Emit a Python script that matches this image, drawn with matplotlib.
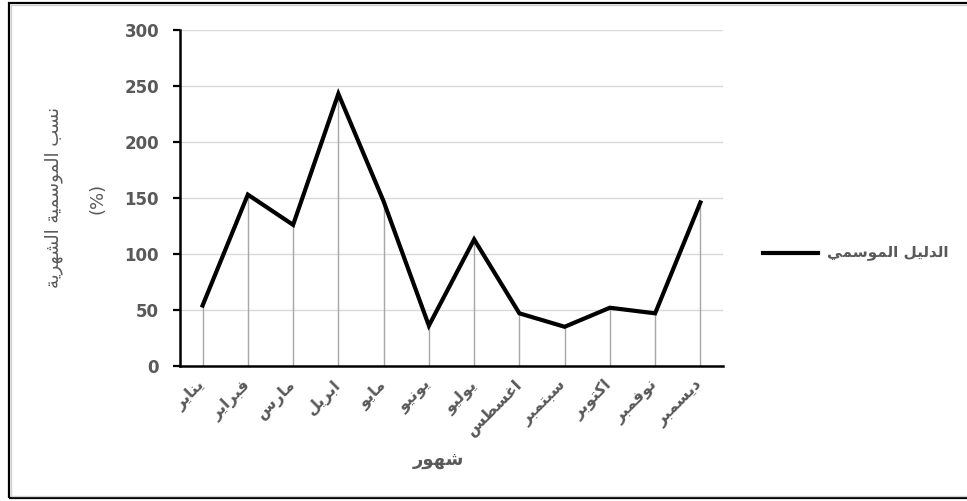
import matplotlib
matplotlib.use("Agg")
import matplotlib.pyplot as plt
from matplotlib.patches import Rectangle
from matplotlib.lines import Line2D
import numpy as np

# البيانات
months = ["يناير", "فبراير", "مارس", "ابريل", "مايو", "يونيو",
          "يوليو", "اغسطس", "سبتمبر", "اكتوبر", "نوفمبر", "ديسمبر"]
seasonal_index = [54, 153, 126, 243, 147, 36, 113, 47, 35, 52, 47, 146]
y_ticks = [0, 50, 100, 150, 200, 250, 300]

x_title = "شهور"
y_title = "نسب الموسمية الشهرية"
y_unit = "(%)"
legend_label = "الدليل الموسمي"

# matplotlib does no Arabic shaping: map letters to presentation forms
# (base code point, joining type) -> forms base, base+1, base+2, base+3
ARABIC_FORMS = {
    "ا": (0xFE8D, "R"), "ب": (0xFE8F, "D"), "ة": (0xFE93, "R"),
    "ت": (0xFE95, "D"), "ث": (0xFE99, "D"), "ج": (0xFE9D, "D"),
    "ح": (0xFEA1, "D"), "خ": (0xFEA5, "D"), "د": (0xFEA9, "R"),
    "ذ": (0xFEAB, "R"), "ر": (0xFEAD, "R"), "ز": (0xFEAF, "R"),
    "س": (0xFEB1, "D"), "ش": (0xFEB5, "D"), "ص": (0xFEB9, "D"),
    "ض": (0xFEBD, "D"), "ط": (0xFEC1, "D"), "ظ": (0xFEC5, "D"),
    "ع": (0xFEC9, "D"), "غ": (0xFECD, "D"), "ف": (0xFED1, "D"),
    "ق": (0xFED5, "D"), "ك": (0xFED9, "D"), "ل": (0xFEDD, "D"),
    "م": (0xFEE1, "D"), "ن": (0xFEE5, "D"), "ه": (0xFEE9, "D"),
    "و": (0xFEED, "R"), "ى": (0xFEEF, "R"), "ي": (0xFEF1, "D"),
}


def shape(text):
    out = []
    n = len(text)
    for i, ch in enumerate(text):
        if ch not in ARABIC_FORMS:
            out.append(ch)
            continue
        base, jt = ARABIC_FORMS[ch]
        prev = text[i - 1] if i > 0 else ""
        nxt = text[i + 1] if i + 1 < n else ""
        join_prev = prev in ARABIC_FORMS and ARABIC_FORMS[prev][1] == "D"
        join_next = jt == "D" and nxt in ARABIC_FORMS
        if join_prev and join_next:
            code = base + 3
        elif join_prev:
            code = base + 1
        elif join_next:
            code = base + 2
        else:
            code = base
        out.append(chr(code))
    return "".join(out)[::-1]


GRAY = "#595959"
AR_FONT = ["DejaVu Sans"]
NUM_FONT = ["DejaVu Sans"]

fig = plt.figure(figsize=(9.67, 5.01), dpi=100)
ax = fig.add_axes([0.1861, 0.2695, 0.5616, 0.6707])

x = np.arange(len(months))
ax.vlines(x, 0, seasonal_index, color="#a6a6a6", lw=1.0, zorder=2)
ax.plot(x, seasonal_index, color="black", lw=3.0, zorder=3,
        solid_joinstyle="miter")

ax.set_xlim(-0.5, len(months) - 0.5)
ax.set_ylim(0, 300)
ax.set_yticks(y_ticks)
ax.yaxis.grid(True, color="#d9d9d9", lw=1.0, zorder=0)
ax.set_axisbelow(True)

for side in ["top", "right"]:
    ax.spines[side].set_visible(False)
for side in ["left", "bottom"]:
    ax.spines[side].set_linewidth(1.8)
    ax.spines[side].set_zorder(4)

ax.tick_params(axis="y", direction="out", length=5, width=1.6,
               colors="black", labelcolor=GRAY, pad=10)
for lab in ax.get_yticklabels():
    lab.set_fontfamily(NUM_FONT)
    lab.set_fontweight("bold")
    lab.set_fontsize(12)

ax.set_xticks(x)
ax.set_xticklabels([shape(m) for m in months], rotation=45,
                   ha="right", va="center", rotation_mode="anchor",
                   fontsize=11.5, fontweight="bold", color=GRAY,
                   family=AR_FONT)
ax.tick_params(axis="x", length=0, pad=12)

fig.text(438 / 967, 1 - 460 / 501, shape(x_title), ha="center", va="center",
         fontsize=13, fontweight="bold", color=GRAY, family=AR_FONT)
fig.text(54 / 967, 1 - 198 / 501, shape(y_title), ha="center", va="center",
         rotation=90, fontsize=13, color=GRAY, family=AR_FONT)
fig.text(97 / 967, 1 - 198 / 501, y_unit, ha="center", va="center",
         rotation=90, fontsize=13, color=GRAY, family=AR_FONT)

# legend
fig.add_artist(Line2D([763 / 967, 818 / 967], [1 - 253 / 501, 1 - 253 / 501],
                      color="black", lw=3.0, transform=fig.transFigure))
fig.text(827 / 967, 1 - 252 / 501, shape(legend_label), ha="left",
         va="center", fontsize=11, fontweight="bold", color=GRAY,
         family=AR_FONT)

# outer frame
fig.patches.append(Rectangle((9 / 967, 3 / 501), 1.0, 495 / 501,
                             transform=fig.transFigure, fill=False,
                             edgecolor="black", lw=1.6))
fig.patches.append(Rectangle((11 / 967, 5 / 501), 1.0, 491 / 501,
                             transform=fig.transFigure, fill=False,
                             edgecolor="#d0d0d0", lw=1.0))

fig.savefig("out.png", dpi=100)
